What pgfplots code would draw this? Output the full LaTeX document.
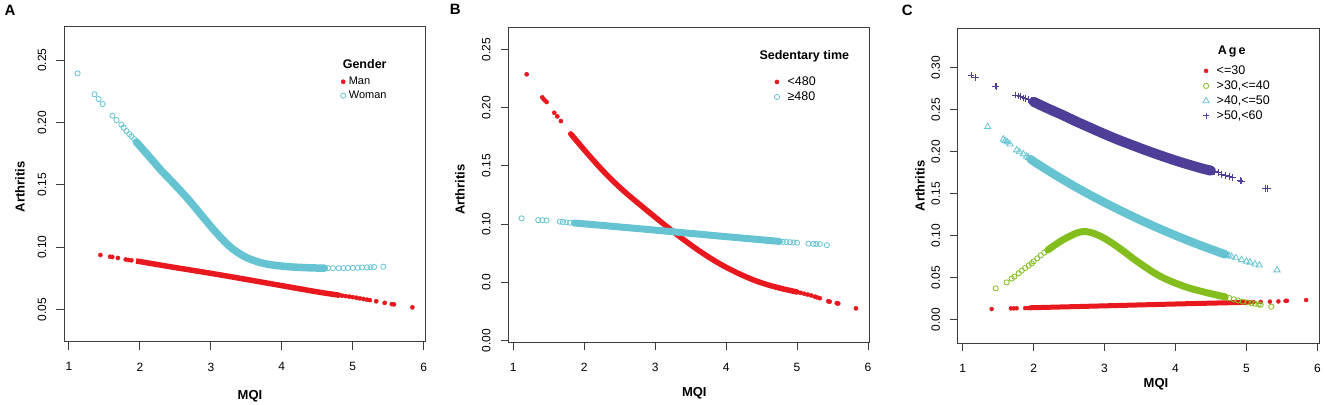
\documentclass[border=0pt]{standalone}
\usepackage{fontspec}
\setmainfont{Liberation Sans}
\usepackage{pgfplots}
\pgfplotsset{compat=1.18}
\definecolor{redR}{RGB}{232,24,30}
\definecolor{cyanR}{RGB}{102,196,210}
\definecolor{greenR}{RGB}{132,190,30}
\definecolor{purpleR}{RGB}{78,62,152}
\definecolor{axR}{RGB}{60,60,60}
\pgfplotsset{
  rstyle/.style={
    scale only axis, width=361.5bp, height=315bp,
    tick align=outside, tick pos=left, major tick length=7.5bp,
    axis line style={draw=axR, line width=1bp},
    tick style={draw=axR, line width=1bp},
    xtick={1,2,3,4,5,6}, xticklabels={1,2,3,4,5,6},
    xmin=0.93, xmax=6.025,
    /pgf/number format/assume math mode=true,
    tick label style={font=\fontsize{12bp}{14bp}\selectfont, inner sep=0pt, text=black},
    xticklabel style={anchor=north, yshift=-13bp},
    yticklabel style={xshift=-10bp, rotate=90, anchor=south},
    legend cell align=left,
    legend image code/.code={\draw[##1] plot coordinates {(0bp,0bp)};},
  },
  rleg/.style={legend style={draw=none, fill=none, inner sep=0pt, outer sep=0pt,
    anchor=north west, row sep=#1,
    /tikz/every odd column/.append style={column sep=3bp}}},
}
\begin{document}
\begin{tikzpicture}
\useasboundingbox (0,0) rectangle (1325bp,405bp);
% ---------------- Panel A ----------------
\begin{axis}[rstyle, at={(64bp,63bp)}, anchor=south west,
  ymin=0.0238, ymax=0.2765,
  ytick={0.05,0.10,0.15,0.20,0.25}, yticklabels={0.05,0.10,0.15,0.20,0.25},
  rleg=3.5bp,
  legend style={at={(0.7652,0.8429)}, nodes={inner sep=0pt, text height=8bp, text depth=2.5bp, font=\fontsize{11bp}{13bp}\selectfont}}]
\addplot[redR, line width=5.5bp, smooth, line cap=round, forget plot] coordinates {(1.95,0.0888)(2.0,0.0883)(2.5,0.0835)(3.0,0.0789)(3.5,0.0740)(4.0,0.0690)(4.5,0.0640)(4.8,0.0614)};
\addplot[only marks, mark=*, mark size=2.1bp, color=redR] coordinates {(1.443,0.0936)(1.58,0.0922)(1.61,0.0920)(1.69,0.0912)(1.80,0.0900)(1.84,0.0896)(1.88,0.0893)(4.80,0.0614)(4.85,0.0610)(4.90,0.0606)(4.95,0.0602)(5.00,0.0598)(5.05,0.0593)(5.10,0.0588)(5.15,0.0583)(5.20,0.0578)(5.24,0.0574)(5.33,0.0565)(5.45,0.0552)(5.55,0.0542)(5.58,0.0540)(5.84,0.0516)};
\addplot[cyanR, line width=7.5bp, smooth, line cap=round, forget plot] coordinates {(1.95,0.1842)(2.0,0.1810)(2.1,0.1745)(2.2,0.1680)(2.3,0.1614)(2.4,0.1555)(2.5,0.1495)(2.6,0.1434)(2.7,0.1370)(2.8,0.1302)(2.9,0.1233)(3.0,0.1165)(3.1,0.1100)(3.2,0.1040)(3.3,0.0988)(3.4,0.0948)(3.5,0.0916)(3.6,0.0893)(3.7,0.0875)(3.8,0.0862)(3.9,0.0853)(4.0,0.0847)(4.1,0.0842)(4.2,0.0838)(4.4,0.0833)(4.6,0.0830)};
\addplot[only marks, mark=o, mark size=2.6bp, color=cyanR, mark options={line width=0.8bp}] coordinates {(1.122,0.2393)(1.360,0.2225)(1.418,0.2187)(1.474,0.2147)(1.612,0.2054)(1.670,0.2018)(1.739,0.1982)(1.77,0.1958)(1.81,0.1930)(1.85,0.1906)(1.88,0.1888)(1.92,0.1865)(1.95,0.1848)(2.00,0.1810)(4.65,0.0830)(4.72,0.0830)(4.80,0.0830)(4.87,0.0831)(4.93,0.0832)(5.00,0.0833)(5.07,0.0834)(5.13,0.0836)(5.20,0.0837)(5.25,0.0838)(5.30,0.0839)(5.43,0.0842)};
\legend{Man,Woman}
\end{axis}
% ---------------- Panel B ----------------
\begin{axis}[rstyle, at={(508.3bp,62.3bp)}, anchor=south west,
  ymin=-0.0017, ymax=0.2686,
  ytick={0,0.05,0.10,0.15,0.20,0.25}, yticklabels={0.00,0.0,0.10,0.15,0.20,0.25},
  rleg=3.5bp,
  legend style={at={(0.736,0.846)}, /tikz/every odd column/.append style={column sep=8bp}, nodes={inner sep=0pt, text height=9bp, text depth=2.5bp, font=\fontsize{12.5bp}{14bp}\selectfont}}]
\addplot[redR, line width=5.5bp, smooth, line cap=round, forget plot] coordinates {(1.81,0.1775)(2.0,0.1638)(2.2,0.1500)(2.4,0.1374)(2.6,0.1262)(2.8,0.1160)(3.0,0.1060)(3.2,0.0962)(3.4,0.0868)(3.6,0.0780)(3.8,0.0700)(4.0,0.0630)(4.2,0.0570)(4.4,0.0518)(4.6,0.0477)(4.8,0.0445)(5.0,0.0418)};
\addplot[only marks, mark=*, mark size=2.1bp, color=redR] coordinates {(1.189,0.2286)(1.409,0.2088)(1.43,0.2072)(1.45,0.2060)(1.47,0.2048)(1.578,0.1956)(1.62,0.1925)(1.672,0.1885)(1.813,0.1774)(5.05,0.0411)(5.10,0.0403)(5.15,0.0396)(5.20,0.0388)(5.25,0.0378)(5.28,0.0372)(5.32,0.0365)(5.44,0.0338)(5.46,0.0335)(5.56,0.0322)(5.58,0.0319)(5.83,0.0278)};
\addplot[cyanR, line width=7bp, smooth, line cap=round, forget plot] coordinates {(1.86,0.1010)(2.0,0.1003)(2.5,0.0976)(3.0,0.0949)(3.5,0.0921)(4.0,0.0893)(4.5,0.0866)(4.75,0.0852)};
\addplot[only marks, mark=o, mark size=2.6bp, color=cyanR, mark options={line width=0.8bp}] coordinates {(1.118,0.1050)(1.352,0.1035)(1.41,0.1034)(1.47,0.1032)(1.658,0.1022)(1.70,0.1019)(1.75,0.1016)(1.80,0.1013)(1.86,0.1010)(4.75,0.0852)(4.80,0.0849)(4.85,0.0847)(4.90,0.0845)(4.95,0.0843)(5.00,0.0841)(5.16,0.0833)(5.23,0.0831)(5.27,0.0830)(5.32,0.0829)(5.42,0.0820)};
\legend{<480,≥480}
\end{axis}
% ---------------- Panel C ----------------
\begin{axis}[rstyle, at={(957.7bp,61.7bp)}, anchor=south west,
  ymin=-0.0281, ymax=0.347,
  ytick={0,0.05,0.10,0.15,0.20,0.25,0.30}, yticklabels={0.00,0.05,0.10,0.15,0.20,0.25,0.30},
  rleg=3.5bp,
  legend style={at={(0.678,0.883)}, /tikz/every odd column/.append style={column sep=7.3bp}, nodes={inner sep=0pt, text height=9bp, text depth=2.5bp, font=\fontsize{12.5bp}{14bp}\selectfont}}]
\addplot[redR, line width=5bp, smooth, line cap=round, forget plot] coordinates {(1.95,0.0142)(3.0,0.0165)(4.0,0.0187)(5.0,0.0207)};
\addplot[only marks, mark=*, mark size=2bp, color=redR] coordinates {(1.409,0.0127)(1.68,0.0135)(1.72,0.0135)(1.76,0.0136)(1.88,0.0138)(1.92,0.0139)(5.05,0.0207)(5.10,0.0209)(5.20,0.0212)(5.33,0.0215)(5.45,0.0218)(5.55,0.0224)(5.57,0.0225)(5.84,0.0234)};
\addplot[greenR, line width=7bp, smooth, line cap=round, forget plot] coordinates {(2.2,0.0830)(2.3,0.0890)(2.4,0.0945)(2.5,0.0990)(2.6,0.1030)(2.7,0.1050)(2.8,0.1040)(2.9,0.1010)(3.0,0.0968)(3.1,0.0915)(3.2,0.0857)(3.3,0.0795)(3.4,0.0730)(3.5,0.0670)(3.6,0.0612)(3.7,0.0557)(3.8,0.0510)(3.9,0.0470)(4.0,0.0435)(4.2,0.0375)(4.4,0.0330)(4.6,0.0290)(4.7,0.0272)};
\addplot[only marks, mark=o, mark size=2.6bp, color=greenR, mark options={line width=0.8bp}] coordinates {(1.465,0.0374)(1.62,0.0444)(1.69,0.0490)(1.728,0.0512)(1.79,0.0553)(1.832,0.0583)(1.88,0.0615)(1.93,0.0645)(1.973,0.0671)(2.0,0.0695)(2.05,0.0730)(2.1,0.0765)(2.15,0.0798)(2.2,0.0830)(4.70,0.0272)(4.76,0.0257)(4.82,0.0243)(4.88,0.0229)(4.95,0.0216)(5.02,0.0205)(5.07,0.0196)(5.12,0.0190)(5.17,0.0182)(5.20,0.0178)(5.35,0.0155)};
\addplot[cyanR, line width=8.5bp, smooth, line cap=round, forget plot] coordinates {(1.96,0.1910)(2.0,0.1885)(2.2,0.1778)(2.4,0.1675)(2.6,0.1577)(2.8,0.1484)(3.0,0.1395)(3.2,0.1310)(3.4,0.1228)(3.6,0.1150)(3.8,0.1075)(4.0,0.1003)(4.2,0.0935)(4.4,0.0870)(4.6,0.0808)(4.7,0.0778)};
\addplot[only marks, mark=triangle, mark size=3.6bp, color=cyanR, mark options={line width=0.8bp}] coordinates {(1.352,0.2298)(1.573,0.2148)(1.60,0.2130)(1.63,0.2115)(1.667,0.2091)(1.761,0.2020)(1.80,0.1998)(1.855,0.1972)(1.90,0.1945)(1.926,0.1930)(1.96,0.1910)(4.70,0.0778)(4.75,0.0764)(4.79,0.0752)(4.85,0.0735)(4.93,0.0713)(5.00,0.0695)(5.05,0.0683)(5.12,0.0662)(5.18,0.0648)(5.43,0.0591)};
\addplot[purpleR, line width=10bp, smooth, line cap=round, forget plot] coordinates {(2.0,0.2595)(2.2,0.2515)(2.4,0.2440)(2.6,0.2360)(2.8,0.2285)(3.0,0.2210)(3.2,0.2140)(3.4,0.2075)(3.6,0.2012)(3.8,0.1952)(4.0,0.1895)(4.2,0.1843)(4.4,0.1795)(4.5,0.1775)};
\addplot[only marks, mark=+, mark size=3.3bp, color=purpleR, mark options={line width=0.9bp}] coordinates {(1.117,0.2913)(1.183,0.2885)(1.455,0.2782)(1.47,0.2778)(1.737,0.2675)(1.78,0.2665)(1.81,0.2655)(1.85,0.2642)(1.879,0.2631)(1.92,0.2620)(1.973,0.2607)(2.1,0.2560)(2.15,0.2540)(2.25,0.2500)(2.35,0.2460)(2.5,0.2400)(4.5,0.1775)(4.55,0.1762)(4.60,0.1750)(4.65,0.1730)(4.70,0.1714)(4.76,0.1705)(4.80,0.1695)(4.91,0.1655)(4.93,0.1652)(5.27,0.1565)(5.30,0.1560)};
\legend{<=30,{>30,<=40},{>40,<=50},{>50,<60}}
\end{axis}
% ---------------- Texts ----------------
\node[font=\bfseries\fontsize{15bp}{17bp}\selectfont] at (10bp,394.7bp) {A};
\node[font=\bfseries\fontsize{15bp}{17bp}\selectfont] at (455.3bp,395.5bp) {B};
\node[font=\bfseries\fontsize{15bp}{17bp}\selectfont] at (907.3bp,394.5bp) {C};
\node[font=\bfseries\fontsize{13bp}{15bp}\selectfont, rotate=90] at (20bp,218bp) {Arthritis};
\node[font=\bfseries\fontsize{13bp}{15bp}\selectfont, rotate=90] at (460bp,215.3bp) {Arthritis};
\node[font=\bfseries\fontsize{13bp}{15bp}\selectfont, rotate=90] at (920bp,219.2bp) {Arthritis};
\node[font=\bfseries\fontsize{13bp}{15bp}\selectfont] at (250bp,9bp) {MQI};
\node[font=\bfseries\fontsize{13bp}{15bp}\selectfont] at (694.3bp,12bp) {MQI};
\node[font=\bfseries\fontsize{13bp}{15bp}\selectfont] at (1156bp,21bp) {MQI};
\node[font=\bfseries\fontsize{12.5bp}{15bp}\selectfont] at (364.7bp,341bp) {Gender};
\node[font=\bfseries\fontsize{12.5bp}{15bp}\selectfont] at (804.3bp,349bp) {Sedentary time};
\node[font=\bfseries\fontsize{12.5bp}{15bp}\selectfont] at (1231.7bp,353.3bp) {A\,g\,e};
\end{tikzpicture}
\end{document}
